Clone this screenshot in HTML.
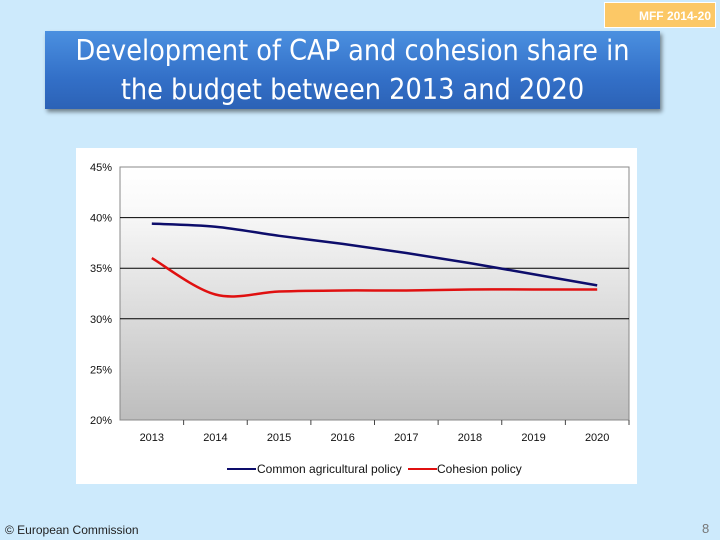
<!DOCTYPE html>
<html><head><meta charset="utf-8"><style>
body{margin:0;width:720px;height:540px;background:#cdeafc;position:relative;overflow:hidden;font-family:"Liberation Sans",sans-serif}
#mff{position:absolute;left:604px;top:2px;width:112px;height:26px;background:#fcc866;border:1px solid #fff;color:#fff;font-size:12px;font-weight:bold;text-align:right;line-height:27px;padding-right:4px;box-sizing:border-box}
#title{position:absolute;left:45px;top:31px;width:615px;height:78px;background:linear-gradient(#4b90e0,#3370c8 60%,#2c62b6);box-shadow:2px 3px 4px rgba(0,0,0,.45);color:#fff;font-size:28.5px;text-align:center;line-height:39px;font-family:"DejaVu Sans Condensed","Liberation Sans Narrow","Liberation Sans",sans-serif}
#chart{position:absolute;left:76px;top:148px;width:561px;height:336px;background:#fff}
#foot{position:absolute;left:5px;top:523px;font-size:12px;color:#222}
#pg{position:absolute;left:702px;top:521px;font-size:13px;color:#777}
</style></head><body>
<div id="mff">MFF 2014-20</div>
<div id="title">Development of CAP and cohesion share in<br>the budget between 2013 and 2020</div>
<svg id="chart" width="561" height="336" viewBox="76 148 561 336">
<defs><linearGradient id="bg" x1="0" y1="0" x2="0" y2="1"><stop offset="0" stop-color="#ffffff"/><stop offset="0.15" stop-color="#fafafa"/><stop offset="1" stop-color="#bdbdbd"/></linearGradient></defs>
<rect x="120" y="167" width="509" height="253" fill="url(#bg)" stroke="#888" stroke-width="1"/>
<g id="grid"></g><g id="axes"></g><g id="series"></g>
<g font-size="12" fill="#111">
<line x1="227" y1="469" x2="256" y2="469" stroke="#0d0d6b" stroke-width="2"/>
<text x="257" y="473">Common agricultural policy</text>
<line x1="408" y1="469" x2="437" y2="469" stroke="#e01010" stroke-width="2"/>
<text x="437" y="473">Cohesion policy</text>
</g>
</svg>
<div id="foot">© European Commission</div>
<div id="pg">8</div>
<script>
const categories=["2013","2014","2015","2016","2017","2018","2019","2020"];
const capValues=[39.4,39.1,38.2,37.4,36.5,35.5,34.4,33.3];
const cohesionValues=[36.0,32.4,32.7,32.8,32.8,32.9,32.9,32.9];
const yTicks=[20,25,30,35,40,45];
const yTickLabels=["20%","25%","30%","35%","40%","45%"];
const gridTicks=[30,35,40];
const NS="http://www.w3.org/2000/svg";
const L=120,R=629,T=167,B=420,yMin=20,yMax=45;
const bw=(R-L)/categories.length;
const x=i=>L+bw*(i+0.5);
const y=v=>B-(v-yMin)/(yMax-yMin)*(B-T);
function mk(tag,attrs,parent){const e=document.createElementNS(NS,tag);for(const k in attrs)e.setAttribute(k,attrs[k]);parent.appendChild(e);return e;}
const grid=document.getElementById('grid'),axes=document.getElementById('axes'),ser=document.getElementById('series');
gridTicks.forEach(t=>{
  const g=mk('line',{x1:L,x2:R,y1:y(t),y2:y(t),stroke:'#000','stroke-width':1},grid);
  
  
});
yTicks.forEach((t,i)=>{
  const tx=mk('text',{x:L-8,y:y(t)+4,'text-anchor':'end','font-size':11,fill:'#111'},axes);
  tx.textContent=yTickLabels[i];
  
  
});
const xa=mk('line',{x1:L,x2:R,y1:B,y2:B,stroke:'#888'},axes);


categories.forEach((c,i)=>{
  const tk=mk('line',{x1:L+bw*(i+1),x2:L+bw*(i+1),y1:B,y2:B+5,stroke:'#444'},axes);
  
  
  const tx=mk('text',{x:x(i),y:441,'text-anchor':'middle','font-size':11,fill:'#111'},axes);
  tx.textContent=c;
  
  
});
function smooth(vals){const p=vals.map((v,i)=>[x(i),y(v)]);let d='M'+p[0][0]+','+p[0][1];
  for(let i=0;i<p.length-1;i++){const p0=p[i-1]||p[i],p1=p[i],p2=p[i+1],p3=p[i+2]||p2;
    const c1=[p1[0]+(p2[0]-p0[0])/6,p1[1]+(p2[1]-p0[1])/6],c2=[p2[0]-(p3[0]-p1[0])/6,p2[1]-(p3[1]-p1[1])/6];
    d+=` C${c1[0]},${c1[1]} ${c2[0]},${c2[1]} ${p2[0]},${p2[1]}`;}return d;}
const l1=mk('path',{d:smooth(capValues),fill:'none',stroke:'#0d0d6b','stroke-width':2.5},ser);


const l2=mk('path',{d:smooth(cohesionValues),fill:'none',stroke:'#e01010','stroke-width':2.5},ser);


</script>
</body></html>
